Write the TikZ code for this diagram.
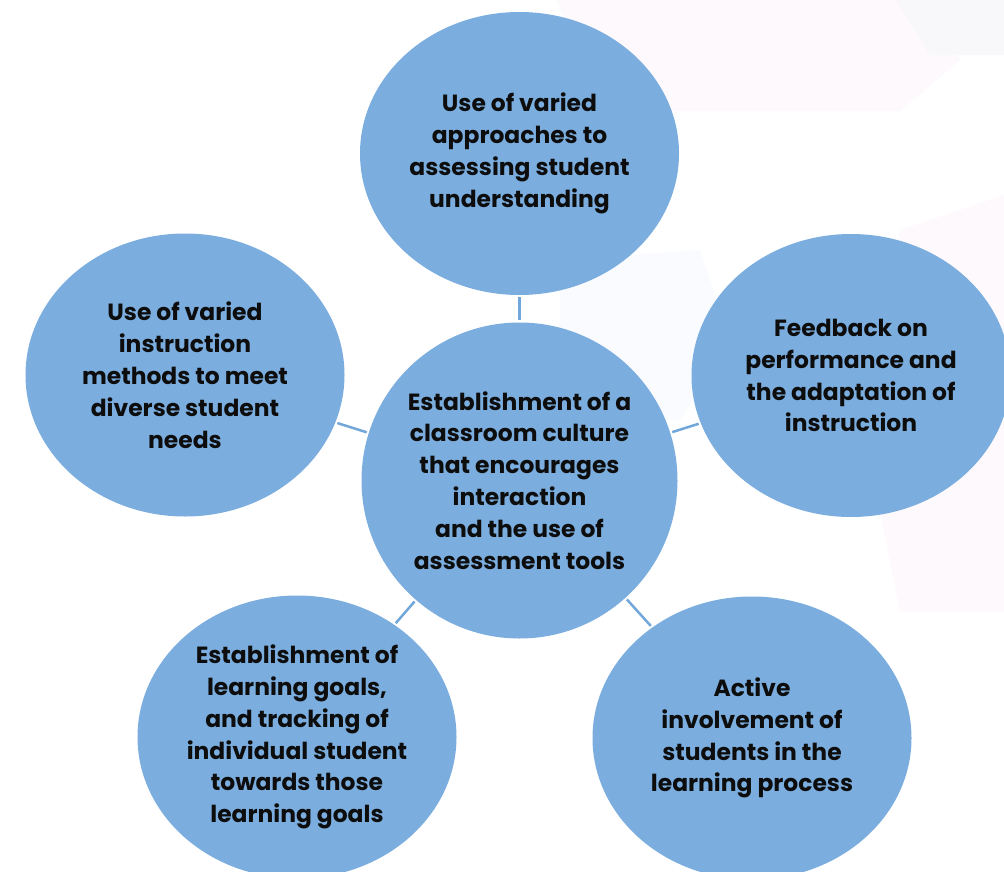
\documentclass[tikz,border=0pt]{standalone}
\usepackage{fontspec}
\setmainfont{Poppins}
\usetikzlibrary{shapes.geometric}
\definecolor{bubble}{HTML}{7BAEDF}
\definecolor{link}{HTML}{72A7D9}
\definecolor{txt}{HTML}{0D0D0D}
\definecolor{bgpink}{HTML}{FDF9FC}
\definecolor{bggrey}{HTML}{F8F8FA}
\definecolor{bgblue}{HTML}{F9FBFE}
\tikzset{
  bubblenode/.style={ellipse, fill=bubble, draw=none, inner sep=0pt,
    minimum width=319bp, minimum height=283bp, align=center, text=txt,
    font=\fontsize{23.5}{32}\selectfont\bfseries},
  centernode/.style={bubblenode, minimum width=316bp, minimum height=316bp},
  linkline/.style={draw=link, line width=2.5bp, shorten <=2bp, shorten >=2bp}
}
\begin{document}
\begin{tikzpicture}[x=1bp,y=-1bp]
\useasboundingbox (0,0) rectangle (1004,872);
\clip (0,0) rectangle (1004,872);
\fill[white] (0,0) rectangle (1004,872);
% faint background shapes
\fill[bgpink] (557,0) -- (928,0) -- (960,60) -- (900,111) -- (600,111) -- cycle;
\fill[bggrey] (896,0) -- (1004,0) -- (1004,55) -- (930,55) -- cycle;
\fill[bgpink] (1004,195) -- (900,230) -- (858,400) -- (900,612) -- (1004,612) -- cycle;
\fill[bgblue] (560,260) -- (700,250) -- (730,340) -- (680,420) -- (560,420) -- cycle;
% bubbles
\node[bubblenode] (t) at (519.5,153.5) {Use of varied\\approaches to\\assessing student\\understanding};
\node[bubblenode] (l) at (185,375) {Use of varied\\instruction\\methods to meet\\diverse student\\needs};
\node[bubblenode] (r) at (851,375.5) {Feedback on\\performance and\\the adaptation of\\instruction};
\node[bubblenode] (bl) at (297,737) {Establishment of\\learning goals,\\and tracking of\\individual student\\towards those\\learning goals};
\node[bubblenode] (br) at (752,738) {Active\\involvement of\\students in the\\learning process};
\node[centernode] (c) at (519.5,480.5) {Establishment of a\\classroom culture\\that encourages\\interaction\\and the use of\\assessment tools};
% connectors
\draw[linkline] (c) -- (t);
\draw[linkline] (c) -- (l);
\draw[linkline] (c) -- (r);
\draw[linkline] (c) -- (bl);
\draw[linkline] (c) -- (br);
\end{tikzpicture}
\end{document}
